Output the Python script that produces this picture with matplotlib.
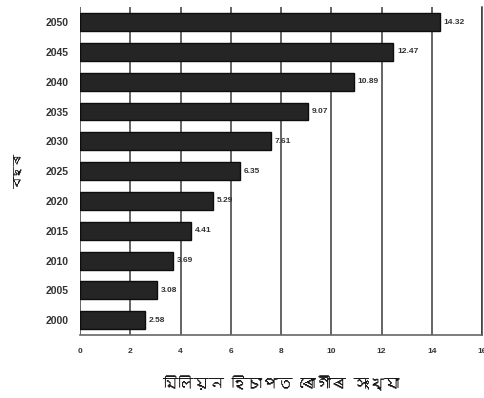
import matplotlib.pyplot as plt
from matplotlib import font_manager
from matplotlib.ft2font import FT2Font

# Projected number of patients (millions) by year
years = ["2000", "2005", "2010", "2015", "2020", "2025",
         "2030", "2035", "2040", "2045", "2050"]
patients = [2.58, 3.08, 3.69, 4.41, 5.29, 6.35, 7.61, 9.07, 10.89, 12.47, 14.32]
value_labels = ["2.58", "3.08", "3.69", "4.41", "5.29", "6.35",
                "7.61", "9.07", "10.89", "12.47", "14.32"]
x_ticks = [0, 2, 4, 6, 8, 10, 12, 14, 16]

x_title = "মিলিয়ন হিচাপত ৰোগীৰ সংখ্যা"
y_title = "বছৰ"


def bengali_family():
    # look for any installed font that covers the Bengali block
    for f in font_manager.fontManager.ttflist:
        try:
            if 0x09AC in FT2Font(f.fname).get_charmap():
                return f.name
        except Exception:
            pass
    return None


beng = bengali_family()
title_family = [beng, "DejaVu Sans"] if beng else ["DejaVu Sans"]

fig = plt.figure(figsize=(4.85, 3.98), dpi=100)
ax = fig.add_axes([0.165, 0.158, 0.829, 0.824])

pos = range(len(years))
ax.barh(pos, patients, height=0.6, color="#252525", edgecolor="#0d0d0d",
        linewidth=1.0, zorder=3)

for y, v, lab in zip(pos, patients, value_labels):
    ax.text(v + 0.15, y, lab, va="center", ha="left", fontsize=6,
            fontweight="bold", color="#333333", family="Liberation Sans")

ax.set_xlim(0, 16)
ax.set_ylim(-0.5, len(years) - 0.5)
ax.set_xticks(x_ticks)
ax.set_yticks(list(pos))
ax.set_yticklabels(years)

for lab in ax.get_xticklabels() + ax.get_yticklabels():
    lab.set_fontweight("bold")
    lab.set_family("Liberation Sans")
    lab.set_color("#333333")
ax.tick_params(axis="x", labelsize=6, length=0, pad=9)
ax.tick_params(axis="y", labelsize=7.5, length=0, pad=8)

ax.grid(axis="x", color="#3a3a3a", linewidth=1.1, zorder=1)
for side in ["top", "left"]:
    ax.spines[side].set_visible(False)
ax.spines["bottom"].set_color("#666666")
ax.spines["bottom"].set_linewidth(1.2)
ax.spines["right"].set_color("#3a3a3a")
ax.spines["right"].set_linewidth(1.1)

ax.set_xlabel(x_title, fontsize=11, family=title_family, labelpad=15,
              color="#111111")
ax.set_ylabel(y_title, fontsize=8.5, family=title_family, labelpad=17,
              color="#111111")

fig.savefig("out.png", dpi=100)
